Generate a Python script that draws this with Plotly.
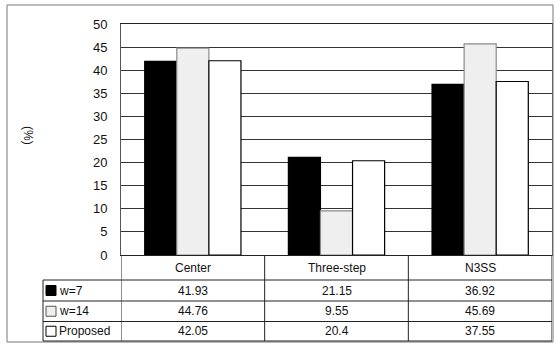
import plotly.graph_objects as go

categories = ["Center", "Three-step", "N3SS"]
series_names = ["w=7", "w=14", "Proposed"]
w7 = [41.93, 21.15, 36.92]
w14 = [44.76, 9.55, 45.69]
proposed = [42.05, 20.4, 37.55]
value_labels = [["41.93", "21.15", "36.92"], ["44.76", "9.55", "45.69"], ["42.05", "20.4", "37.55"]]
y_ticks = [0, 5, 10, 15, 20, 25, 30, 35, 40, 45, 50]

W, H = 555, 344
def px(x):
    return x / W
def py(y):
    return 1 - y / H

FONT = "Liberation Sans, Arial, sans-serif"
fills = ["#000000", "#efefef", "#ffffff"]
line_cols = ["#000000", "#8a8a8a", "#000000"]
series = [w7, w14, proposed]

fig = go.Figure()
for name, vals, fc, lc in zip(series_names, series, fills, line_cols):
    fig.add_trace(go.Bar(
        x=categories, y=vals, name=name,
        marker=dict(color=fc, line=dict(color=lc, width=1.2)),
        showlegend=False,
    ))

plot_l, plot_r, plot_t, plot_b = 121, 552, 24, 255
row_bounds = [255, 280, 301, 321.5, 341]

shapes = []
# outer border
shapes.append(dict(type="rect", xref="paper", yref="paper", x0=px(7), x1=px(553), y0=py(5), y1=py(342),
                   line=dict(color="#777777", width=1)))
# table horizontal lines
for yb in row_bounds[1:]:
    shapes.append(dict(type="line", xref="paper", yref="paper", x0=px(43), x1=px(plot_r), y0=py(yb), y1=py(yb),
                       line=dict(color="#222222", width=1)))
# table vertical lines
shapes.append(dict(type="line", xref="paper", yref="paper", x0=px(43), x1=px(43), y0=py(row_bounds[1]), y1=py(row_bounds[-1]),
                   line=dict(color="#222222", width=1)))
for i in range(len(categories) + 1):
    shapes.append(dict(type="line", xref="x", yref="paper", x0=i - 0.5, x1=i - 0.5, y0=py(plot_b), y1=py(row_bounds[-1]),
                       line=dict(color="#222222", width=1)))

annotations = []
# header category labels
for c in categories:
    annotations.append(dict(x=c, y=py((row_bounds[0] + row_bounds[1]) / 2), xref="x", yref="paper",
                            xanchor="center", yanchor="middle",
                            text=c, showarrow=False, font=dict(family=FONT, size=12, color="#111111")))
# rows
for r, (name, labs) in enumerate(zip(series_names, value_labels)):
    yc = (row_bounds[r + 1] + row_bounds[r + 2]) / 2
    # legend key
    shapes.append(dict(type="rect", xref="paper", yref="paper", x0=px(46), x1=px(56), y0=py(yc + 5), y1=py(yc - 5),
                       fillcolor=fills[r], line=dict(color=line_cols[r] if r != 1 else "#555555", width=1)))
    annotations.append(dict(x=px(57), y=py(yc), xref="paper", yref="paper", text=name, showarrow=False,
                            xanchor="left", yanchor="middle", font=dict(family=FONT, size=12, color="#111111")))
    for c, lab in zip(categories, labs):
        annotations.append(dict(x=c, y=py(yc), xref="x", yref="paper", text=lab, showarrow=False,
                                xanchor="center", yanchor="middle",
                                font=dict(family=FONT, size=12, color="#111111")))
# y-axis title
annotations.append(dict(x=px(28), y=py(135), xref="paper", yref="paper", text="(%)", textangle=90,
                        xanchor="center", yanchor="middle",
                        showarrow=False, font=dict(family=FONT, size=12, color="#111111")))

fig.update_layout(
    width=W, height=H,
    margin=dict(l=0, r=0, t=0, b=0, pad=0),
    paper_bgcolor="white", plot_bgcolor="white",
    barmode="group", bargap=0.33, bargroupgap=0,
    xaxis=dict(domain=[px(plot_l), px(plot_r)], showticklabels=False, ticks="", showgrid=False,
               showline=True, linecolor="#222222", linewidth=1, mirror=True, automargin=False,
               range=[-0.5, 2.5]),
    yaxis=dict(domain=[py(plot_b), py(plot_t)], range=[0, 50], tickvals=y_ticks, ticks="",
               showgrid=True, gridcolor="#333333", gridwidth=1,
               showline=True, linecolor="#555555", linewidth=1, mirror=True, automargin=False,
               ticklabelstandoff=10, zeroline=False,
               tickfont=dict(family=FONT, size=13, color="#111111")),
    shapes=shapes, annotations=annotations,
)

fig.write_html("out.html", config={"displayModeBar": False},
               post_script="document.body.style.margin='0';document.body.style.overflow='hidden';")
